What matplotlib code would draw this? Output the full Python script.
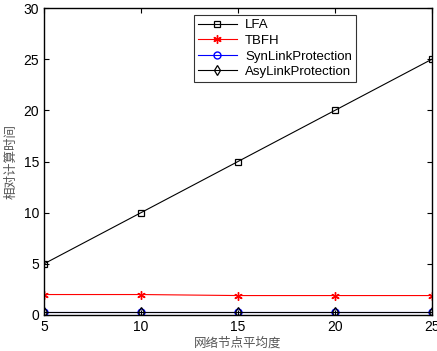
import matplotlib
matplotlib.use("Agg")
import matplotlib.pyplot as plt

plt.rcParams['font.family'] = ['Liberation Sans', 'Noto Sans CJK SC', 'DejaVu Sans']

x = [5, 10, 15, 20, 25]
lfa = [5, 10, 15, 20, 25]
tbfh = [2.0, 2.0, 1.9, 1.9, 1.9]
syn = [0.3, 0.3, 0.3, 0.3, 0.3]
asy = [0.3, 0.3, 0.3, 0.3, 0.3]

fig = plt.figure(figsize=(4.37, 3.51), dpi=100)
ax = fig.add_axes([44/437, 1-315/351, (432-44)/437, (315-8)/351])

ax.plot(x, lfa, color='black', marker='s', mfc='none', ms=5, mew=0.9, lw=0.8, label='LFA')
ax.plot(x, tbfh, color='red', marker=(6, 2, 0), ms=6, mew=1.0, lw=0.8, label='TBFH')
ax.plot(x, syn, color='blue', marker='o', mfc='none', ms=5, mew=1.0, lw=0.8, label='SynLinkProtection')
ax.plot(x, asy, color='black', marker='d', mfc='none', ms=5, mew=0.9, lw=0.8, label='AsyLinkProtection')

ax.set_xlim(5, 25)
ax.set_ylim(0, 30)
ax.set_xticks([5, 10, 15, 20, 25])
ax.set_yticks([0, 5, 10, 15, 20, 25, 30])
ax.tick_params(direction='in', top=True, right=True, labelsize=10, length=3.5)
for s in ax.spines.values():
    s.set_linewidth(1.0)

ax.set_xlabel('网络节点平均度', family=['Noto Sans CJK SC'], fontsize=9, color='#555555', labelpad=2)
ax.set_ylabel('相对计算时间', family=['Noto Sans CJK SC'], fontsize=9, color='#555555', labelpad=4)

leg = ax.legend(loc='upper center', bbox_to_anchor=(0.595, 0.985), fontsize=9.5, frameon=True,
                fancybox=False, edgecolor='black', borderpad=0.3, labelspacing=0.25,
                handlelength=3.0, handletextpad=0.6, borderaxespad=0.2)
leg.get_frame().set_linewidth(0.8)

fig.savefig('out.png', dpi=100)
